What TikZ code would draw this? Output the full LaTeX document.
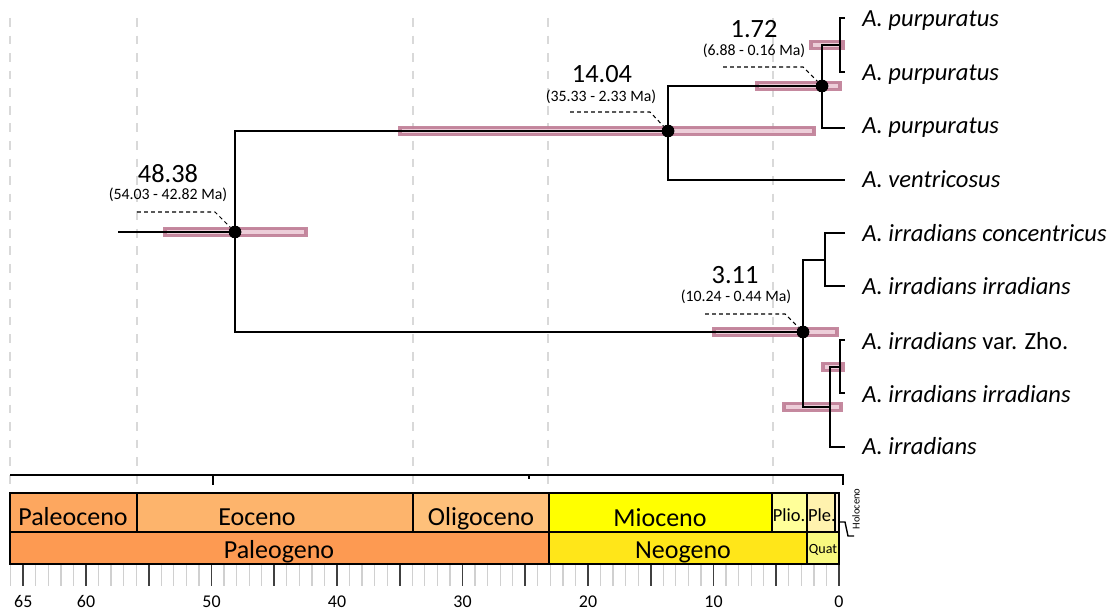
\documentclass[tikz,border=0pt]{standalone}
\usepackage{fontspec}
\setmainfont{Carlito}
\definecolor{hpdedge}{HTML}{C07F97}
\definecolor{hpdfill}{HTML}{EBCAD6}
\definecolor{gridgrey}{HTML}{D9D9D9}
\definecolor{tickgrey}{HTML}{D0D0D0}
\definecolor{paleoc}{HTML}{FDA75F}
\definecolor{eoc}{HTML}{FDB46C}
\definecolor{oligoc}{HTML}{FEC07A}
\definecolor{mioc}{HTML}{FFFF00}
\definecolor{plioc}{HTML}{FFFF99}
\definecolor{pleist}{HTML}{FFF2AE}
\definecolor{holoc}{HTML}{FEF2E0}
\definecolor{paleog}{HTML}{FD9A52}
\definecolor{neog}{HTML}{FFE619}
\definecolor{quat}{HTML}{F9F97F}
\begin{document}
\begin{tikzpicture}[x=0.02cm, y=-0.02cm,
    branch/.style={line width=0.9pt},
    dot/.style={circle, fill=black, inner sep=0pt, minimum size=0.25cm},
    hpd/.style={draw=hpdedge, fill=hpdfill, line width=2pt, opacity=0.92},
    epochline/.style={gridgrey, line width=1.1pt, dash pattern=on 5pt off 5pt},
    leader/.style={line width=0.6pt, dash pattern=on 2.2pt off 1.8pt},
    agelabel/.style={font=\fontsize{15}{15}\selectfont, anchor=base, inner sep=0pt},
    hpdrange/.style={font=\fontsize{9}{9}\selectfont, anchor=base, inner sep=0pt},
    tiplabel/.style={font=\fontsize{14}{14}\selectfont\itshape, anchor=base west, inner sep=0pt},
    cellbox/.style={line width=0.9pt},
    epochlabel/.style={font=\fontsize{14.8}{15}\selectfont, anchor=base, inner sep=0pt},
    smalllabel/.style={font=\fontsize{10.5}{11}\selectfont, anchor=base, inner sep=0pt},
    majortick/.style={line width=0.9pt, black!75},
    minortick/.style={line width=0.7pt, tickgrey}]
  \useasboundingbox (0,0) rectangle (1120,611);

  % epoch boundaries
  \foreach \xx in {10,137,413,548,773}
    \draw[epochline] (\xx,18) -- (\xx,490);

  % HPD intervals
  \draw[hpd] (165,228.5) rectangle (306,235.5);
  \draw[hpd] (400,127.5) rectangle (814,134.5);
  \draw[hpd] (757,82.5) rectangle (840,89.5);
  \draw[hpd] (811,41.5) rectangle (843,48.5);
  \draw[hpd] (714,328.5) rectangle (837,335.5);
  \draw[hpd] (823,363.5) rectangle (843,370.5);
  \draw[hpd] (784,403.5) rectangle (841,410.5);

  % nodes
  \coordinate (root) at (118,232);
  \node[dot] (n48) at (235,232) {};
  \node[dot] (n14) at (668,131) {};
  \node[dot] (n172) at (822,86) {};
  \node[dot] (n311) at (803,332) {};
  \coordinate (c1) at (840,45);
  \coordinate (c2) at (825,260);
  \coordinate (c3) at (830,407);
  \coordinate (c4) at (840,367);

  % tips
  \coordinate (e1) at (845,18);
  \coordinate (e2) at (845,72);
  \coordinate (e3) at (845,128);
  \coordinate (e4) at (845,180);
  \coordinate (e5) at (845,233);
  \coordinate (e6) at (845,286);
  \coordinate (e7) at (845,340);
  \coordinate (e8) at (845,393);
  \coordinate (e9) at (845,447);

  % branches
  \draw[branch] (root) -- (n48.center);
  \draw[branch] (n14.center) -| (n48.center) |- (n311.center);
  \draw[branch] (n172.center) -| (n14.center) |- (e4);
  \draw[branch] (c1) -| (n172.center) |- (e3);
  \draw[branch] (e1) -| (c1) |- (e2);
  \draw[branch] (c2) -| (n311.center) |- (c3);
  \draw[branch] (e5) -| (c2) |- (e6);
  \draw[branch] (c4) -| (c3) |- (e9);
  \draw[branch] (e7) -| (c4) |- (e8);
  \foreach \n in {n48,n14,n172,n311}
    \node[dot] at (\n) {};

  % node ages
  \node[agelabel] (a48) at (168,183) {48.38};
  \node[hpdrange] (r48) at (168,200) {(54.03 - 42.82 Ma)};
  \coordinate (l48) at (137,212);
  \draw[leader] (l48) -- ++(78,0) -- (n48);

  \node[agelabel] (a14) at (602,83) {14.04};
  \node[hpdrange] (r14) at (601,102) {(35.33 - 2.33 Ma)};
  \coordinate (l14) at (570,112);
  \draw[leader] (l14) -- ++(80,0) -- (n14);

  \node[agelabel] (a172) at (754,38) {1.72};
  \node[hpdrange] (r172) at (754,56) {(6.88 - 0.16 Ma)};
  \coordinate (l172) at (723,67);
  \draw[leader] (l172) -- ++(80,0) -- (n172);

  \node[agelabel] (a311) at (735,284) {3.11};
  \node[hpdrange] (r311) at (736,302) {(10.24 - 0.44 Ma)};
  \coordinate (l311) at (705,314);
  \draw[leader] (l311) -- ++(80,0) -- (n311);

  % tip labels
  \node[tiplabel] (t1) at (862,27) {A. purpuratus};
  \node[tiplabel] (t2) at (862,81) {A. purpuratus};
  \node[tiplabel] (t3) at (862,134) {A. purpuratus};
  \node[tiplabel] (t4) at (862,188) {A. ventricosus};
  \node[tiplabel] (t5) at (862,242) {A. irradians concentricus};
  \node[tiplabel] (t6) at (862,295) {A. irradians irradians};
  \node[tiplabel] (t7) at (862,350) {A. irradians \upshape var. Zho.};
  \node[tiplabel] (t8) at (862,402) {A. irradians irradians};
  \node[tiplabel] (t9) at (862,455) {A. irradians};

  % upper axis
  \coordinate (ax0) at (10,475);
  \coordinate (ax1) at (843,475);
  \draw[line width=0.9pt] (ax0) -- (ax1) -- ++(0,10);
  \draw[line width=0.9pt] (213,475) -- ++(0,10);
  \draw[line width=0.9pt] (529,475) -- ++(0,4);

  % time scale
  \draw[cellbox, fill=paleoc] (10,493) rectangle (137,532);
  \draw[cellbox, fill=eoc] (137,493) rectangle (413,532);
  \draw[cellbox, fill=oligoc] (413,493) rectangle (549,532);
  \draw[cellbox, fill=mioc] (549,493) rectangle (772,532);
  \draw[cellbox, fill=plioc] (772,493) rectangle (807,532);
  \draw[cellbox, fill=pleist] (807,493) rectangle (835,532);
  \draw[cellbox, fill=holoc] (835,493) rectangle (839,532);
  \draw[cellbox, fill=paleog] (10,532) rectangle (549,564);
  \draw[cellbox, fill=neog] (549,532) rectangle (807,564);
  \draw[cellbox, fill=quat] (807,532) rectangle (839,564);

  \node[epochlabel] (paleoceno) at (73,525) {Paleoceno};
  \node[epochlabel] (eoceno) at (257,525) {Eoceno};
  \node[epochlabel] (oligoceno) at (481,525) {Oligoceno};
  \node[epochlabel] (mioceno) at (660,526) {Mioceno};
  \node[smalllabel] (plio) at (789,521) {Plio.};
  \node[smalllabel] (ple) at (822,521) {Ple.};
  \node[epochlabel] (paleogeno) at (279,558) {Paleogeno};
  \node[epochlabel] (neogeno) at (683,558) {Neogeno};
  \node[smalllabel, font=\fontsize{8}{8}\selectfont] (quat) at (823,553) {Quat};
  \node[font=\fontsize{6}{6}\selectfont, rotate=90, inner sep=0pt] (holoceno) at (856,509) {Holoceno};
  \coordinate (holo) at (839,522);
  \draw[line width=0.8pt] (holo) -- ++(6,0) -- ++(3,14) -- ++(6,0);

  % bottom axis
  \foreach \a in {1,...,66}
    \draw[minortick] ({839-12.55*\a},565) -- ++(0,21);
  \foreach \a in {0,5,...,65}
    \draw[majortick] ({839-12.55*\a},565) -- ++(0,21);
  \foreach \a in {0,10,...,60,65}
    \node[font=\fontsize{10.2}{10}\selectfont, anchor=base, inner sep=0pt] (lab\a) at ({839-12.55*\a},607) {\a};
\end{tikzpicture}
\end{document}
